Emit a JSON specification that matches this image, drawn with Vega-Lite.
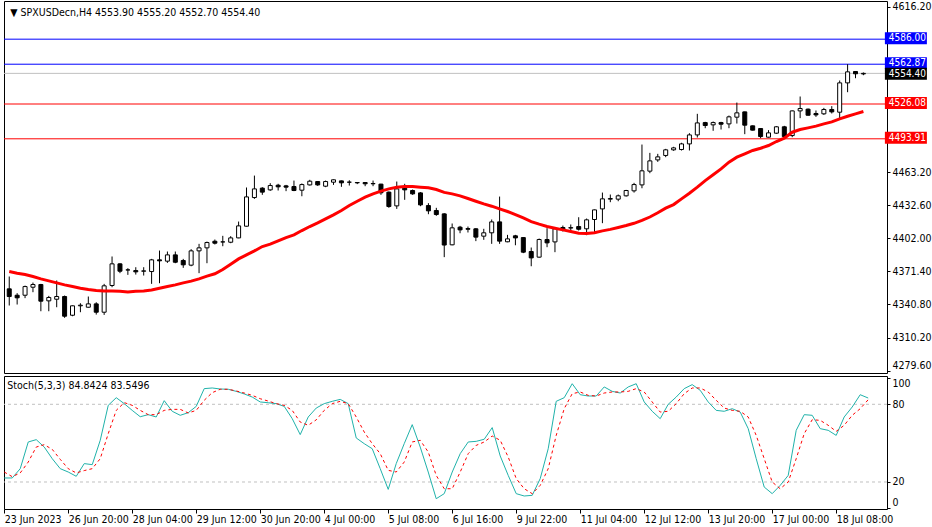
{
  "$schema": "https://vega.github.io/schema/vega-lite/v6.json",
  "padding": {"left": 3, "top": 0, "right": 0, "bottom": 0},
  "spacing": 1,
  "background": "white",
  "config": {
    "view": {"stroke": "black", "strokeWidth": 1},
    "font": "Liberation Sans Narrow, DejaVu Sans Condensed, Liberation Sans",
    "axis": {"labelFont": "Liberation Sans Narrow, DejaVu Sans Condensed, Liberation Sans", "labelFontSize": 10.5, "labelColor": "black", "tickColor": "black", "domain": false, "grid": false, "labelOverlap": false, "labelBound": false, "zindex": 0}
  },
  "datasets": {
    "bars": [
      {"i":0,"o":4355.2,"h":4366.6,"l":4339.8,"c":4348.1,"ma":4371.2,"k":23.1,"d":27.7},
      {"i":1,"o":4349.3,"h":4351.2,"l":4340.7,"c":4346.9,"ma":4369.7,"k":23.1,"d":24.1},
      {"i":2,"o":4349.3,"h":4358.2,"l":4346.6,"c":4357.3,"ma":4368.4,"k":30.3,"d":27.0},
      {"i":3,"o":4356.7,"h":4361.0,"l":4352.1,"c":4359.2,"ma":4366.6,"k":50.9,"d":35.4},
      {"i":4,"o":4359.2,"h":4359.8,"l":4334.5,"c":4343.8,"ma":4364.4,"k":52.7,"d":47.0},
      {"i":5,"o":4344.1,"h":4348.7,"l":4334.5,"c":4347.2,"ma":4362.6,"k":47.0,"d":48.8},
      {"i":6,"o":4345.6,"h":4362.9,"l":4338.2,"c":4348.1,"ma":4360.7,"k":38.0,"d":45.2},
      {"i":7,"o":4348.1,"h":4349.0,"l":4328.4,"c":4329.9,"ma":4358.9,"k":30.3,"d":37.5},
      {"i":8,"o":4330.8,"h":4339.8,"l":4329.9,"c":4339.5,"ma":4357.3,"k":27.7,"d":30.3},
      {"i":9,"o":4339.5,"h":4341.9,"l":4333.6,"c":4340.1,"ma":4355.8,"k":24.4,"d":27.0},
      {"i":10,"o":4338.2,"h":4348.1,"l":4337.9,"c":4341.3,"ma":4354.6,"k":34.2,"d":28.8},
      {"i":11,"o":4341.3,"h":4342.8,"l":4331.4,"c":4333.6,"ma":4353.6,"k":33.4,"d":30.3},
      {"i":12,"o":4333.6,"h":4359.8,"l":4331.1,"c":4358.0,"ma":4353.3,"k":52.2,"d":38.0},
      {"i":13,"o":4358.3,"h":4385.1,"l":4356.7,"c":4378.3,"ma":4353.3,"k":79.2,"d":57.3},
      {"i":14,"o":4378.3,"h":4378.9,"l":4369.7,"c":4371.5,"ma":4353.0,"k":85.1,"d":75.3},
      {"i":15,"o":4372.7,"h":4374.3,"l":4368.1,"c":4372.7,"ma":4352.4,"k":80.5,"d":81.3},
      {"i":16,"o":4372.1,"h":4375.2,"l":4368.4,"c":4370.9,"ma":4353.0,"k":75.3,"d":79.2},
      {"i":17,"o":4371.5,"h":4375.2,"l":4367.5,"c":4371.8,"ma":4353.3,"k":70.4,"d":75.3},
      {"i":18,"o":4371.2,"h":4382.9,"l":4359.8,"c":4382.0,"ma":4354.2,"k":72.0,"d":72.0},
      {"i":19,"o":4382.0,"h":4390.6,"l":4360.4,"c":4381.1,"ma":4355.8,"k":70.2,"d":72.0},
      {"i":20,"o":4380.8,"h":4389.7,"l":4379.2,"c":4386.6,"ma":4357.3,"k":82.8,"d":75.3},
      {"i":21,"o":4386.6,"h":4389.7,"l":4378.9,"c":4379.8,"ma":4358.9,"k":74.6,"d":76.1},
      {"i":22,"o":4381.4,"h":4382.9,"l":4374.6,"c":4377.4,"ma":4360.7,"k":71.5,"d":76.1},
      {"i":23,"o":4377.1,"h":4391.9,"l":4376.1,"c":4390.3,"ma":4362.3,"k":73.5,"d":73.3},
      {"i":24,"o":4390.3,"h":4396.8,"l":4369.7,"c":4393.1,"ma":4364.4,"k":78.4,"d":75.3},
      {"i":25,"o":4393.1,"h":4398.9,"l":4378.9,"c":4398.0,"ma":4366.9,"k":92.1,"d":83.1},
      {"i":26,"o":4399.2,"h":4400.8,"l":4396.2,"c":4397.4,"ma":4369.1,"k":92.6,"d":89.0},
      {"i":27,"o":4398.6,"h":4404.2,"l":4394.6,"c":4398.6,"ma":4373.0,"k":91.8,"d":91.6},
      {"i":28,"o":4398.3,"h":4403.9,"l":4397.4,"c":4402.3,"ma":4378.0,"k":91.6,"d":91.6},
      {"i":29,"o":4402.3,"h":4417.4,"l":4402.0,"c":4413.4,"ma":4382.9,"k":90.0,"d":90.3},
      {"i":30,"o":4413.1,"h":4448.9,"l":4412.8,"c":4440.2,"ma":4386.6,"k":88.0,"d":88.7},
      {"i":31,"o":4439.6,"h":4459.9,"l":4438.4,"c":4447.6,"ma":4390.3,"k":85.6,"d":86.9},
      {"i":32,"o":4448.3,"h":4449.2,"l":4442.1,"c":4444.6,"ma":4394.3,"k":81.8,"d":84.3},
      {"i":33,"o":4446.7,"h":4452.9,"l":4445.8,"c":4450.7,"ma":4396.5,"k":81.2,"d":82.5},
      {"i":34,"o":4451.0,"h":4452.3,"l":4446.1,"c":4449.5,"ma":4399.6,"k":80.5,"d":80.5},
      {"i":35,"o":4450.4,"h":4451.3,"l":4445.5,"c":4449.2,"ma":4402.6,"k":78.4,"d":79.2},
      {"i":36,"o":4449.8,"h":4455.3,"l":4445.5,"c":4446.1,"ma":4405.1,"k":68.9,"d":75.3},
      {"i":37,"o":4446.4,"h":4452.6,"l":4440.8,"c":4451.6,"ma":4409.1,"k":56.6,"d":66.3},
      {"i":38,"o":4451.3,"h":4456.0,"l":4450.7,"c":4454.7,"ma":4412.8,"k":70.2,"d":63.8},
      {"i":39,"o":4454.4,"h":4454.7,"l":4450.4,"c":4451.3,"ma":4416.2,"k":77.1,"d":68.0},
      {"i":40,"o":4450.1,"h":4455.3,"l":4449.2,"c":4454.4,"ma":4419.9,"k":80.5,"d":75.3},
      {"i":41,"o":4453.8,"h":4456.3,"l":4451.3,"c":4456.0,"ma":4423.6,"k":82.3,"d":80.5},
      {"i":42,"o":4455.0,"h":4455.3,"l":4449.5,"c":4453.2,"ma":4427.6,"k":83.8,"d":82.3},
      {"i":43,"o":4453.8,"h":4455.6,"l":4450.7,"c":4453.8,"ma":4432.2,"k":80.5,"d":80.5},
      {"i":44,"o":4453.5,"h":4453.8,"l":4452.0,"c":4453.2,"ma":4436.2,"k":54.0,"d":70.2},
      {"i":45,"o":4453.5,"h":4453.8,"l":4450.1,"c":4452.3,"ma":4439.9,"k":49.6,"d":58.6},
      {"i":46,"o":4452.3,"h":4455.3,"l":4450.1,"c":4452.6,"ma":4443.0,"k":45.7,"d":49.6},
      {"i":47,"o":4452.0,"h":4452.3,"l":4442.1,"c":4444.0,"ma":4445.5,"k":30.3,"d":41.9},
      {"i":48,"o":4444.6,"h":4445.2,"l":4430.1,"c":4431.3,"ma":4447.6,"k":14.3,"d":29.0},
      {"i":49,"o":4431.9,"h":4454.4,"l":4429.1,"c":4447.6,"ma":4449.2,"k":34.2,"d":27.7},
      {"i":50,"o":4448.3,"h":4452.3,"l":4437.5,"c":4446.7,"ma":4449.8,"k":49.6,"d":35.4},
      {"i":51,"o":4446.1,"h":4447.0,"l":4442.1,"c":4443.0,"ma":4449.8,"k":64.3,"d":50.9},
      {"i":52,"o":4443.9,"h":4444.6,"l":4431.6,"c":4432.8,"ma":4449.2,"k":47.0,"d":52.2},
      {"i":53,"o":4432.2,"h":4434.4,"l":4424.2,"c":4427.3,"ma":4448.6,"k":27.7,"d":43.2},
      {"i":54,"o":4427.6,"h":4430.1,"l":4422.7,"c":4423.9,"ma":4447.0,"k":7.1,"d":25.1},
      {"i":55,"o":4424.5,"h":4425.1,"l":4384.5,"c":4395.7,"ma":4444.4,"k":11.0,"d":14.8},
      {"i":56,"o":4395.9,"h":4415.6,"l":4395.5,"c":4411.6,"ma":4443.0,"k":27.7,"d":14.8},
      {"i":57,"o":4412.2,"h":4413.4,"l":4406.6,"c":4409.7,"ma":4441.2,"k":41.9,"d":27.7},
      {"i":58,"o":4410.9,"h":4412.8,"l":4407.3,"c":4410.3,"ma":4438.7,"k":50.9,"d":41.9},
      {"i":59,"o":4410.7,"h":4411.3,"l":4399.3,"c":4403.0,"ma":4436.2,"k":51.4,"d":48.3},
      {"i":60,"o":4403.9,"h":4410.7,"l":4400.5,"c":4407.0,"ma":4433.8,"k":53.0,"d":50.9},
      {"i":61,"o":4407.0,"h":4419.3,"l":4396.8,"c":4417.1,"ma":4431.6,"k":62.0,"d":55.5},
      {"i":62,"o":4417.1,"h":4440.5,"l":4396.8,"c":4399.3,"ma":4429.1,"k":40.1,"d":52.2},
      {"i":63,"o":4398.7,"h":4405.1,"l":4398.3,"c":4401.4,"ma":4426.7,"k":25.1,"d":39.3},
      {"i":64,"o":4404.2,"h":4405.1,"l":4395.5,"c":4402.3,"ma":4423.9,"k":11.0,"d":22.6},
      {"i":65,"o":4402.6,"h":4403.0,"l":4388.2,"c":4389.1,"ma":4420.8,"k":9.2,"d":14.8},
      {"i":66,"o":4389.7,"h":4393.4,"l":4376.1,"c":4383.8,"ma":4417.4,"k":9.7,"d":11.0},
      {"i":67,"o":4384.5,"h":4401.7,"l":4384.1,"c":4400.8,"ma":4415.0,"k":22.6,"d":17.4},
      {"i":68,"o":4400.8,"h":4411.3,"l":4393.7,"c":4397.7,"ma":4412.8,"k":45.7,"d":30.3},
      {"i":69,"o":4398.6,"h":4411.6,"l":4389.1,"c":4410.7,"ma":4411.3,"k":82.3,"d":56.0},
      {"i":70,"o":4411.9,"h":4413.7,"l":4408.2,"c":4410.3,"ma":4409.7,"k":85.1,"d":76.6},
      {"i":71,"o":4411.4,"h":4414.7,"l":4408.5,"c":4411.8,"ma":4408.2,"k":95.9,"d":88.2},
      {"i":72,"o":4412.8,"h":4421.4,"l":4409.1,"c":4410.3,"ma":4406.6,"k":87.4,"d":89.5},
      {"i":73,"o":4410.7,"h":4420.2,"l":4404.8,"c":4419.0,"ma":4406.3,"k":86.4,"d":86.9},
      {"i":74,"o":4419.3,"h":4428.5,"l":4406.6,"c":4428.2,"ma":4407.0,"k":86.4,"d":86.4},
      {"i":75,"o":4429.1,"h":4444.2,"l":4415.9,"c":4438.4,"ma":4408.8,"k":93.4,"d":88.7},
      {"i":76,"o":4438.1,"h":4442.4,"l":4435.3,"c":4438.7,"ma":4410.2,"k":90.0,"d":89.5},
      {"i":77,"o":4438.1,"h":4442.4,"l":4436.2,"c":4441.2,"ma":4411.9,"k":88.7,"d":89.5},
      {"i":78,"o":4441.2,"h":4446.7,"l":4440.5,"c":4446.1,"ma":4413.7,"k":93.4,"d":90.0},
      {"i":79,"o":4445.8,"h":4453.2,"l":4444.2,"c":4451.6,"ma":4415.8,"k":95.9,"d":92.1},
      {"i":80,"o":4451.3,"h":4488.6,"l":4448.2,"c":4464.3,"ma":4418.4,"k":81.8,"d":89.5},
      {"i":81,"o":4464.0,"h":4480.9,"l":4462.1,"c":4473.5,"ma":4421.6,"k":74.6,"d":81.8},
      {"i":82,"o":4474.4,"h":4480.0,"l":4472.6,"c":4477.2,"ma":4425.5,"k":68.9,"d":74.0},
      {"i":83,"o":4478.5,"h":4484.6,"l":4476.9,"c":4483.7,"ma":4429.8,"k":80.0,"d":74.6},
      {"i":84,"o":4483.7,"h":4486.5,"l":4482.8,"c":4485.5,"ma":4433.1,"k":85.6,"d":80.5},
      {"i":85,"o":4484.0,"h":4490.2,"l":4483.1,"c":4489.2,"ma":4438.4,"k":92.1,"d":88.2},
      {"i":86,"o":4489.2,"h":4499.1,"l":4483.1,"c":4497.5,"ma":4443.6,"k":95.2,"d":92.6},
      {"i":87,"o":4497.5,"h":4517.0,"l":4495.1,"c":4508.6,"ma":4449.2,"k":90.8,"d":92.6},
      {"i":88,"o":4508.9,"h":4509.6,"l":4503.7,"c":4506.2,"ma":4455.3,"k":81.8,"d":89.5},
      {"i":89,"o":4506.8,"h":4509.9,"l":4501.3,"c":4508.9,"ma":4460.6,"k":75.3,"d":83.1},
      {"i":90,"o":4508.9,"h":4509.6,"l":4502.5,"c":4507.4,"ma":4466.1,"k":74.6,"d":77.1},
      {"i":91,"o":4507.7,"h":4515.4,"l":4503.7,"c":4514.2,"ma":4472.3,"k":76.6,"d":75.3},
      {"i":92,"o":4513.9,"h":4527.4,"l":4508.0,"c":4517.9,"ma":4476.9,"k":74.0,"d":74.6},
      {"i":93,"o":4518.8,"h":4519.0,"l":4498.2,"c":4506.5,"ma":4480.0,"k":61.2,"d":70.2},
      {"i":94,"o":4505.9,"h":4506.2,"l":4501.6,"c":4501.9,"ma":4483.1,"k":38.0,"d":56.0},
      {"i":95,"o":4503.4,"h":4503.6,"l":4494.5,"c":4496.0,"ma":4485.2,"k":16.1,"d":38.0},
      {"i":96,"o":4495.4,"h":4501.9,"l":4495.1,"c":4499.4,"ma":4487.7,"k":11.0,"d":20.0},
      {"i":97,"o":4499.1,"h":4505.6,"l":4498.5,"c":4505.0,"ma":4491.4,"k":17.4,"d":14.8},
      {"i":98,"o":4505.0,"h":4505.9,"l":4494.5,"c":4496.0,"ma":4494.5,"k":25.1,"d":20.0},
      {"i":99,"o":4496.9,"h":4520.0,"l":4495.4,"c":4519.7,"ma":4500.0,"k":59.9,"d":38.0},
      {"i":100,"o":4519.7,"h":4533.0,"l":4513.0,"c":4521.9,"ma":4502.5,"k":72.0,"d":57.3},
      {"i":101,"o":4521.3,"h":4521.9,"l":4515.4,"c":4515.7,"ma":4504.0,"k":71.5,"d":68.1},
      {"i":102,"o":4517.3,"h":4520.1,"l":4514.2,"c":4516.0,"ma":4505.6,"k":61.2,"d":67.6},
      {"i":103,"o":4517.0,"h":4522.5,"l":4516.0,"c":4521.0,"ma":4507.7,"k":59.9,"d":63.8},
      {"i":104,"o":4521.0,"h":4524.1,"l":4517.3,"c":4518.8,"ma":4509.6,"k":56.0,"d":59.1},
      {"i":105,"o":4518.5,"h":4547.8,"l":4512.3,"c":4545.6,"ma":4512.4,"k":70.2,"d":63.8},
      {"i":106,"o":4545.6,"h":4562.87,"l":4537.0,"c":4555.8,"ma":4514.8,"k":77.9,"d":71.5},
      {"i":107,"o":4556.1,"h":4556.3,"l":4549.9,"c":4554.0,"ma":4517.0,"k":87.4,"d":76.6},
      {"i":108,"o":4553.9,"h":4555.2,"l":4552.7,"c":4554.4,"ma":4519.1,"k":84.8424,"d":83.5496}
    ]
  },
  "vconcat": [
    {
      "width": 883,
      "height": 372,
      "layer": [
        {
          "data": {"values": [
            {"v": 4586.00, "kind": "resistance"},
            {"v": 4562.87, "kind": "resistance"},
            {"v": 4526.08, "kind": "support"},
            {"v": 4493.91, "kind": "support"},
            {"v": 4554.40, "kind": "bid"}
          ]},
          "mark": {"type": "rule", "strokeWidth": 1},
          "encoding": {
            "y": {"field": "v", "type": "quantitative", "title": null,
                  "scale": {"domain": [4277.4, 4621.3], "nice": false, "zero": false},
                  "axis": {"orient": "right", "title": null, "zindex": 0, "values": [4279.6, 4310.2, 4340.8, 4371.4, 4402.0, 4432.6, 4463.2, 4616.2], "format": ".2f", "tickSize": 3, "labelPadding": 2, "labelBound": false, "labelOverlap": false,
                           "labelBaseline": {"condition": {"test": "datum.value < 4290", "value": "bottom"}, "value": "middle"}}},
            "stroke": {"field": "kind", "type": "nominal", "scale": {"domain": ["resistance", "support", "bid"], "range": ["#0000ff", "#ff0000", "#c0c0c0"]}, "legend": null}
          }
        },
        {
          "data": {"name": "bars"},
          "mark": {"type": "rule", "color": "black", "strokeWidth": 1, "clip": true},
          "encoding": {
            "x": {"field": "i", "type": "quantitative", "title": null, "scale": {"domain": [-0.03, 110.35], "nice": false, "zero": false}, "axis": null},
            "y": {"field": "l", "type": "quantitative", "title": null},
            "y2": {"field": "h"}
          }
        },
        {
          "data": {"name": "bars"},
          "mark": {"type": "bar", "size": 4, "stroke": "black", "strokeWidth": 1, "clip": true},
          "encoding": {
            "x": {"field": "i", "type": "quantitative", "title": null, "axis": null},
            "y": {"field": "o", "type": "quantitative", "title": null},
            "y2": {"field": "c"},
            "fill": {"condition": {"test": "datum.c >= datum.o", "value": "white"}, "value": "black"}
          }
        },
        {
          "data": {"name": "bars"},
          "mark": {"type": "line", "color": "#ff0000", "strokeWidth": 3, "clip": true},
          "encoding": {
            "x": {"field": "i", "type": "quantitative", "title": null, "axis": null},
            "y": {"field": "ma", "type": "quantitative", "title": null}
          }
        },
        {
          "data": {"values": [
            {"v": 4586.00, "kind": "resistance"},
            {"v": 4562.87, "kind": "resistance"},
            {"v": 4526.08, "kind": "support"},
            {"v": 4493.91, "kind": "support"}
          ]},
          "mark": {"type": "point", "shape": "M-1,-0.2857H1V0.2857H-1Z", "size": 1764, "filled": true, "opacity": 1, "strokeWidth": 0, "yOffset": -1},
          "encoding": {
            "x": {"datum": 113.37},
            "y": {"field": "v", "type": "quantitative", "title": null},
            "fill": {"field": "kind", "type": "nominal", "scale": {"domain": ["resistance", "support", "bid"], "range": ["#0000ff", "#ff0000", "#000000"]}, "legend": null}
          }
        },
        {
          "data": {"values": [
            {"v": 4586.00},
            {"v": 4562.87},
            {"v": 4526.08},
            {"v": 4493.91}
          ]},
          "mark": {"type": "text", "align": "left", "baseline": "middle", "color": "white", "fontSize": 10, "dy": -1},
          "encoding": {
            "x": {"datum": 111.2},
            "y": {"field": "v", "type": "quantitative", "title": null},
            "text": {"field": "v", "type": "quantitative", "format": ".2f"}
          }
        },
        {
          "data": {"values": [{"v": 4554.40, "kind": "bid"}]},
          "mark": {"type": "point", "shape": "M-1,-0.2857H1V0.2857H-1Z", "size": 1764, "filled": true, "opacity": 1, "strokeWidth": 0, "yOffset": 0.5},
          "encoding": {
            "x": {"datum": 113.37},
            "y": {"field": "v", "type": "quantitative", "title": null},
            "fill": {"field": "kind", "type": "nominal", "legend": null}
          }
        },
        {
          "data": {"values": [{"v": 4554.40}]},
          "mark": {"type": "text", "align": "left", "baseline": "middle", "color": "white", "fontSize": 10, "dy": 0.5},
          "encoding": {
            "x": {"datum": 111.2},
            "y": {"field": "v", "type": "quantitative", "title": null},
            "text": {"field": "v", "type": "quantitative", "format": ".2f"}
          }
        },
        {
          "data": {"values": [{"label": "▼  SPXUSDecn,H4  4553.90 4555.20 4552.70 4554.40"}]},
          "mark": {"type": "text", "align": "left", "baseline": "middle", "color": "black", "fontSize": 10.5},
          "encoding": {
            "x": {"datum": 0.14},
            "y": {"datum": 4610.2},
            "text": {"field": "label", "type": "nominal"}
          }
        }
      ]
    },
    {
      "width": 883,
      "height": 133,
      "layer": [
        {
          "data": {"values": [{"v": 80}, {"v": 20}]},
          "mark": {"type": "rule", "color": "#c0c0c0", "strokeWidth": 1, "strokeDash": [3, 3]},
          "encoding": {
            "y": {"field": "v", "type": "quantitative", "title": null,
                  "scale": {"domain": [-0.85, 101.85], "nice": false, "zero": false},
                  "axis": {"orient": "right", "title": null, "zindex": 0, "values": [0, 20, 80, 100], "tickSize": 3, "labelPadding": 2, "labelBound": false, "labelOverlap": false,
                           "labelBaseline": {"condition": [{"test": "datum.value == 100", "value": "top"}, {"test": "datum.value == 0", "value": "bottom"}], "value": "middle"}}}
          }
        },
        {
          "data": {"name": "bars"},
          "mark": {"type": "line", "color": "#20b2aa", "strokeWidth": 1, "clip": true},
          "encoding": {
            "x": {"field": "i", "type": "quantitative", "title": null,
                  "scale": {"domain": [-0.03, 110.35], "nice": false, "zero": false},
                  "axis": {"orient": "bottom", "title": null, "values": [0, 8, 16, 24, 32, 40, 48, 56, 64, 72, 80, 88, 96, 104],
                           "labelExpr": "['23 Jun 2023','26 Jun 20:00','28 Jun 04:00','29 Jun 12:00','30 Jun 20:00','4 Jul 00:00','5 Jul 08:00','6 Jul 16:00','9 Jul 22:00','11 Jul 04:00','12 Jul 12:00','13 Jul 20:00','17 Jul 00:00','18 Jul 08:00'][round(datum.value / 8)]",
                           "labelAlign": "left", "labelPadding": 1, "tickSize": 4, "labelFlush": false, "labelOverlap": false, "labelBound": false}},
            "y": {"field": "k", "type": "quantitative", "title": null}
          }
        },
        {
          "data": {"name": "bars"},
          "mark": {"type": "line", "color": "#ff0000", "strokeWidth": 1, "strokeDash": [3, 3], "clip": true},
          "encoding": {
            "x": {"field": "i", "type": "quantitative", "title": null},
            "y": {"field": "d", "type": "quantitative", "title": null}
          }
        },
        {
          "data": {"values": [{"label": "Stoch(5,3,3) 84.8424 83.5496"}]},
          "mark": {"type": "text", "align": "left", "baseline": "middle", "color": "black", "fontSize": 10.5},
          "encoding": {
            "x": {"datum": 0.39},
            "y": {"datum": 94.1},
            "text": {"field": "label", "type": "nominal"}
          }
        }
      ]
    }
  ]
}
